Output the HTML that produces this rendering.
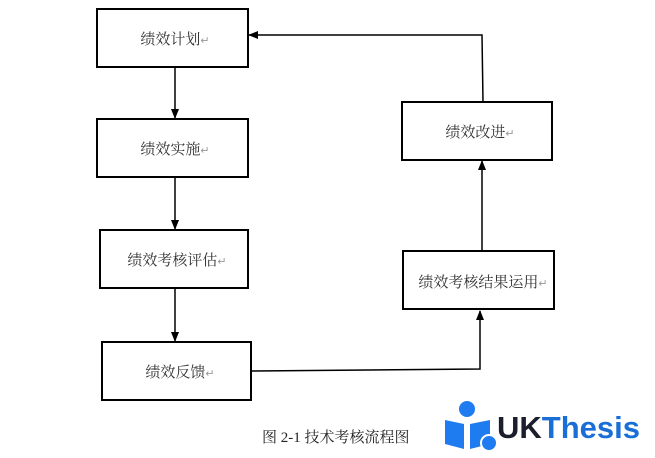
<!DOCTYPE html>
<html><head><meta charset="utf-8"><style>
body{margin:0;background:#fff;width:655px;height:453px;overflow:hidden;}
</style></head><body>
<svg width="655" height="453" xmlns="http://www.w3.org/2000/svg" style="font-family:'Liberation Serif','Noto Serif CJK SC','Noto Sans CJK SC',serif">
<defs><marker id="a" markerWidth="10" markerHeight="10" refX="9" refY="5" orient="auto" markerUnits="userSpaceOnUse"><path d="M0,1 L10,5 L0,9 Z" fill="#000"/></marker></defs>
<g fill="#fff" stroke="#000" stroke-width="2">
<rect x="97" y="9" width="151" height="58"/>
<rect x="97" y="119" width="151" height="58"/>
<rect x="100" y="230" width="148" height="58"/>
<rect x="102" y="342" width="149" height="58"/>
<rect x="402" y="102" width="150" height="58"/>
<rect x="403" y="251" width="151" height="58"/>
</g>
<g stroke="#000" stroke-width="1.5" fill="none">
<line x1="175" y1="67" x2="175" y2="118" marker-end="url(#a)"/>
<line x1="175" y1="177" x2="175" y2="229" marker-end="url(#a)"/>
<line x1="175" y1="288" x2="175" y2="341" marker-end="url(#a)"/>
<polyline points="252,371 480,369 480,311" marker-end="url(#a)"/>
<line x1="482" y1="251" x2="482" y2="161" marker-end="url(#a)"/>
<polyline points="483,102 482,35 249,35" marker-end="url(#a)"/>
</g>
<g font-size="15" fill="#333" text-anchor="middle" font-family="'Liberation Serif','Noto Serif CJK SC',serif">
<text x="175" y="44">绩效计划<tspan fill="#999" font-size="11">↵</tspan></text>
<text x="175" y="154">绩效实施<tspan fill="#999" font-size="11">↵</tspan></text>
<text x="177" y="265">绩效考核评估<tspan fill="#999" font-size="11">↵</tspan></text>
<text x="180" y="377">绩效反馈<tspan fill="#999" font-size="11">↵</tspan></text>
<text x="480" y="137">绩效改进<tspan fill="#999" font-size="11">↵</tspan></text>
<text x="483" y="287">绩效考核结果运用<tspan fill="#999" font-size="11">↵</tspan></text>
</g>
<text x="262" y="442" font-size="15" fill="#222" font-family="'Liberation Serif','Noto Serif CJK SC',serif">图 2-1  技术考核流程图</text>
<g fill="#1e7bf0">
<circle cx="467" cy="409" r="8"/>
<path d="M445,420 L464,424 L464,449 L445,444 Z"/>
<path d="M470,424 L490,420 L490,444 L470,449 Z"/>
<circle cx="489" cy="443" r="8" stroke="#fff" stroke-width="2"/>
</g>
<text x="497" y="438" font-family="'Liberation Sans',sans-serif" font-weight="bold" font-size="31" fill="#1b1f2c">UK<tspan fill="#1a6fd6">Thesis</tspan></text>
</svg>
</body></html>
